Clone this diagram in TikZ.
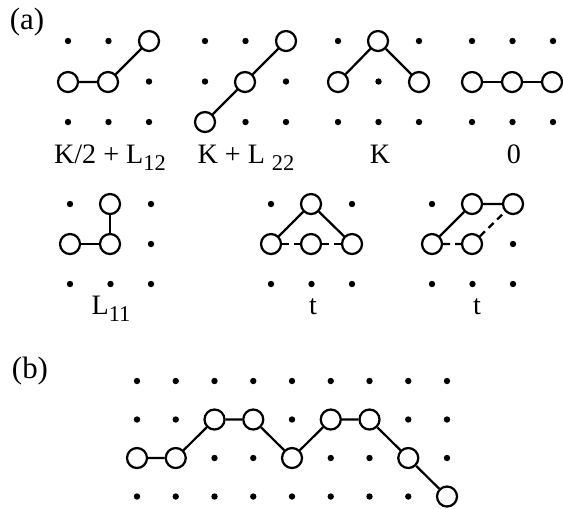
\documentclass[tikz,border=0pt]{standalone}
\usepackage{fontspec}
\setmainfont{Liberation Serif}
\newcommand{\lowidx}[1]{\raisebox{-0.55ex}{\fontsize{16}{16}\selectfont #1}}
\begin{document}
\begin{tikzpicture}[x=0.025cm, y=-0.025cm,
  dot/.style={circle, fill, inner sep=0, minimum size=0.16cm},
  site/.style={circle, draw, fill=white, line width=1.6pt, inner sep=0, minimum size=0.5cm},
  bond/.style={line width=1.6pt},
  hop/.style={bond, dash pattern=on 5pt off 3.5pt},
  lab/.style={font=\fontsize{20}{20}\selectfont, anchor=base},
  tag/.style={font=\fontsize{22}{22}\selectfont, anchor=base}]
  \useasboundingbox (0,0) rectangle (563,508);

  % (a) lattice points, first row
  \node[tag] (ta) at (27,29) {(a)};
  \foreach \gx in {68,205,338,472}
    \foreach \i in {0,1,2}
      \foreach \j in {0,1,2}
        \node[dot] (d\gx-\i-\j) at ({\gx+40.5*\i},{41+40.5*\j}) {};

  % K/2 + L12
  \node[site] (a1) at (68,82) {};
  \node[site] (a2) at (108,82) {};
  \node[site] (a3) at (149,41) {};
  \draw[bond] (a1) -- (a2) -- (a3);
  \node[lab] (la) at (110,163) {K/2 + L\lowidx{12}};

  % K + L22
  \node[site] (b1) at (205,122) {};
  \node[site] (b2) at (245,82) {};
  \node[site] (b3) at (286,41) {};
  \draw[bond] (b1) -- (b2) -- (b3);
  \node[lab] (lb) at (246,163) {K + L \lowidx{22}};

  % K
  \node[site] (c1) at (338,82) {};
  \node[site] (c2) at (378,41) {};
  \node[site] (c3) at (419,82) {};
  \draw[bond] (c1) -- (c2) -- (c3);
  \node[lab] (lc) at (380,163) {K};

  % 0
  \node[site] (e1) at (472,82) {};
  \node[site] (e2) at (512,82) {};
  \node[site] (e3) at (552,82) {};
  \draw[bond] (e1) -- (e2) -- (e3);
  \node[lab] (le) at (514,163) {0};

  % (a) lattice points, second row
  \foreach \gx in {70,271,432}
    \foreach \i in {0,1,2}
      \foreach \j in {0,1,2}
        \node[dot] (d\gx-\i-\j) at ({\gx+40.5*\i},{204+40*\j}) {};

  % L11
  \node[site] (f1) at (70,244) {};
  \node[site] (f2) at (110,244) {};
  \node[site] (f3) at (110,204) {};
  \draw[bond] (f1) -- (f2) -- (f3);
  \node[lab] (lf) at (111,314) {L\lowidx{11}};

  % t, triangle
  \node[site] (g1) at (271,244) {};
  \node[site] (g2) at (311,204) {};
  \node[site] (g3) at (352,244) {};
  \node[site] (g4) at (311,244) {};
  \draw[bond] (g1) -- (g2) -- (g3);
  \draw[hop] (g1) -- (g4) -- (g3);
  \node[lab] (lg) at (313,314) {t};

  % t, parallelogram
  \node[site] (h1) at (432,244) {};
  \node[site] (h2) at (472,204) {};
  \node[site] (h3) at (513,204) {};
  \node[site] (h4) at (472,244) {};
  \draw[bond] (h1) -- (h2) -- (h3);
  \draw[hop] (h1) -- (h4) -- (h3);
  \node[lab] (lh) at (477,314) {t};

  % (b) lattice and path
  \node[tag] (tb) at (30,378) {(b)};
  \foreach \i in {0,...,8}
    \foreach \j in {0,...,3}
      \node[dot] (p\i-\j) at ({137+38.75*\i},{381+38.5*\j}) {};
  \foreach \i/\j [count=\k] in {0/2,1/2,2/1,3/1,4/2,5/1,6/1,7/2,8/3}
    \node[site] (s\k) at ({137+38.75*\i},{381+38.5*\j}) {};
  \draw[bond] (s1) -- (s2) -- (s3) -- (s4) -- (s5) -- (s6) -- (s7) -- (s8) -- (s9);
\end{tikzpicture}
\end{document}
